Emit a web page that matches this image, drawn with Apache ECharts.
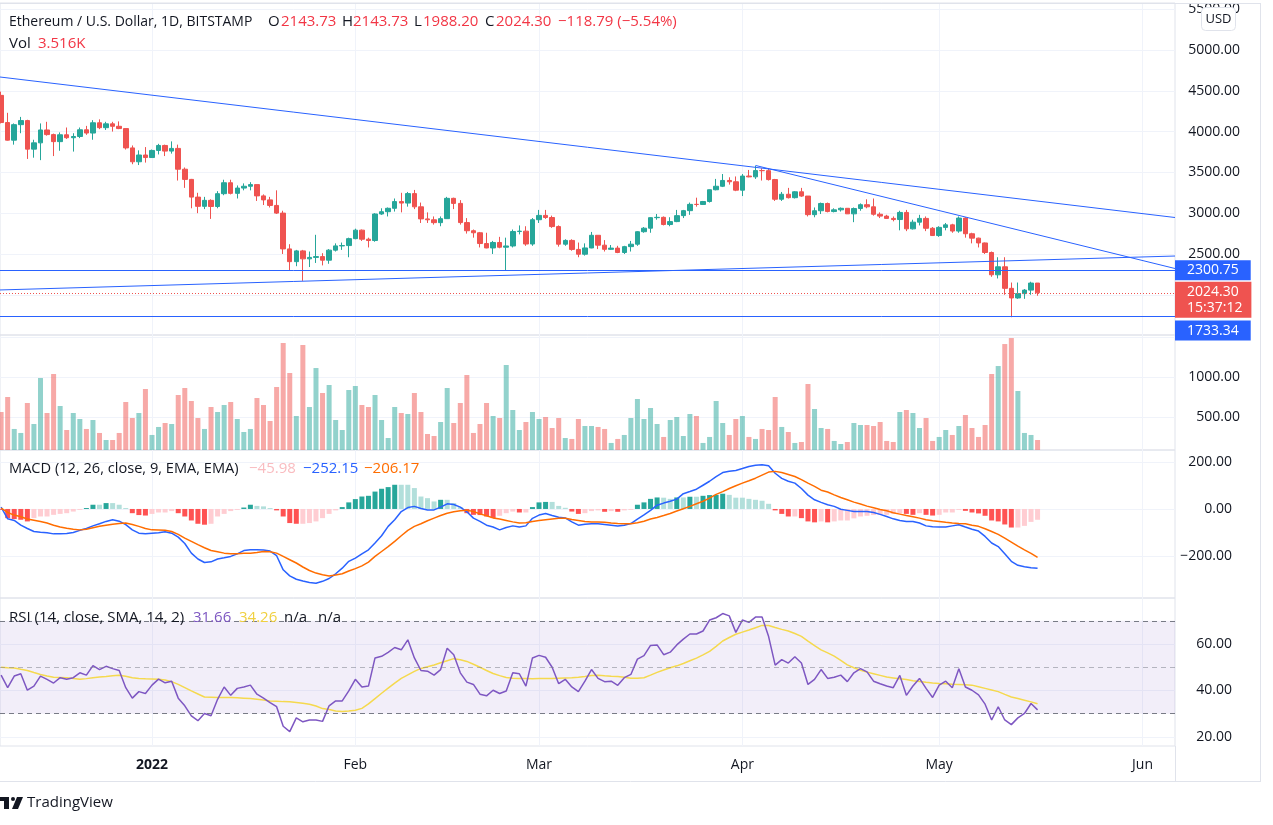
<!DOCTYPE html>
<html><head><meta charset="utf-8">
<script src="https://cdn.jsdelivr.net/npm/echarts@6/dist/echarts.min.js"></script>
<style>html,body{margin:0;padding:0;background:#fff;}#c{width:1273px;height:825px;}</style>
</head><body><div id="c"></div>
<script>
// ---------------- DATA ----------------
const startDate = '2021-12-09'; // day index 0
const opens = [4444,4111,3895,4085,4135,3785,3862,4020,3963,3877,
3961,3925,3940,4022,3982,4108,4048,4095,4065,4037,
3800,3630,3713,3682,3769,3830,3761,3794,3539,3414,
3197,3084,3157,3082,3239,3373,3243,3308,3330,3350,
3212,3163,3095,3001,2562,2406,2538,2440,2458,2468,
2424,2547,2599,2603,2688,2792,2681,2665,2990,3018,
3060,3142,3124,3240,3078,2930,2919,2884,2933,3182,
3120,2885,2785,2760,2628,2574,2641,2583,2598,2775,
2780,2622,2920,2973,2947,2836,2620,2666,2556,2497,
2574,2729,2608,2557,2572,2518,2590,2620,2773,2816,
2945,2949,2861,2897,2970,3031,3108,3107,3143,3287,
3330,3401,3385,3282,3455,3445,3522,3521,3412,3171,
3232,3190,3262,3210,2982,3030,3119,3020,3041,3060,
2992,3057,3104,3078,2987,2964,2936,2922,3009,2808,
2890,2936,2815,2726,2826,2857,2781,2940,2748,2694,
2635,2518,2245,2343,2079,1961,2014,2057,2143.73];
const highs = [4490,4230,4100,4180,4145,3900,4100,4120,3975,3990,
4050,3980,4050,4070,4140,4150,4120,4120,4125,4037,
3830,3770,3810,3780,3850,3840,3880,3840,3560,3420,
3250,3200,3170,3270,3410,3410,3340,3365,3380,3350,
3230,3200,3280,3030,2620,2550,2550,2530,2735,2510,
2560,2630,2640,2700,2810,2800,2700,3000,3060,3070,
3180,3250,3260,3285,3130,3010,2960,2960,3200,3190,
3160,2940,2800,2770,2760,2660,2710,2700,2800,2850,
2840,2940,3040,3040,2970,2850,2680,2680,2640,2630,
2770,2730,2670,2610,2600,2600,2660,2780,2830,2950,
2990,2960,2950,3040,3040,3130,3190,3150,3290,3420,
3480,3440,3450,3480,3530,3580,3550,3550,3420,3260,
3310,3270,3310,3210,3070,3130,3130,3060,3070,3060,
3070,3120,3170,3180,3010,2980,2960,3030,3040,2920,
2980,2960,2830,2840,2880,2870,2960,2950,2760,2700,
2640,2530,2460,2460,2150,2150,2070,2160,2143.73];
const lows = [4100,3890,3840,3980,3665,3680,3650,3950,3700,3765,
3910,3755,3920,3960,3900,4030,4020,4000,4030,3780,
3600,3590,3620,3680,3720,3700,3730,3400,3310,3060,
3000,3050,2930,3060,3220,3230,3180,3280,3280,3150,
3100,3070,2990,2500,2300,2350,2170,2340,2390,2360,
2380,2530,2550,2460,2680,2660,2580,2650,2980,2960,
3020,3010,3080,3050,2880,2880,2860,2840,2930,3050,
2860,2750,2700,2580,2570,2500,2570,2300,2580,2740,
2600,2600,2880,2930,2820,2590,2600,2540,2460,2480,
2570,2560,2530,2550,2510,2500,2530,2600,2760,2760,
2920,2850,2840,2890,2940,2980,3080,3100,3130,3280,
3320,3350,3270,3210,3440,3420,3400,3400,3150,3150,
3180,3180,3200,2960,2950,2990,3010,3010,3020,2990,
2890,3030,3060,2970,2940,2930,2900,2790,2780,2800,
2850,2780,2720,2710,2790,2760,2760,2700,2630,2580,
2500,2220,2200,2000,1725,1950,1950,2000,1988.20];
const closes = [4111,3895,4085,4135,3785,3862,4020,3963,3877,3961,
3925,3940,4022,3982,4108,4048,4095,4065,4037,3800,
3630,3713,3682,3769,3830,3761,3794,3539,3414,3197,
3084,3157,3082,3239,3373,3243,3308,3330,3350,3212,
3163,3095,3001,2562,2406,2538,2440,2458,2468,2424,
2547,2599,2603,2688,2792,2681,2665,2990,3018,3060,
3142,3124,3240,3078,2930,2919,2884,2933,3182,3120,
2885,2785,2760,2628,2574,2641,2583,2598,2775,2780,
2622,2920,2973,2947,2836,2620,2666,2556,2497,2574,
2729,2608,2557,2572,2518,2590,2620,2773,2816,2945,
2949,2861,2897,2970,3031,3108,3107,3143,3287,3330,
3401,3385,3282,3455,3445,3522,3521,3412,3171,3232,
3190,3262,3210,2982,3030,3119,3020,3041,3060,2992,
3057,3104,3078,2987,2964,2936,2922,3009,2808,2890,
2936,2815,2726,2826,2857,2781,2940,2748,2694,2635,
2518,2245,2343,2079,1961,2014,2057,2143.73,2024.30];
const volumes = [566,754,354,304,679,416,991,554,1041,641,
341,554,479,354,466,304,216,216,304,691,
491,554,854,279,379,429,416,779,866,704,
491,354,629,566,654,691,479,316,354,741,
654,454,879,1429,1054,516,1404,629,1116,804,
904,466,341,841,891,654,629,779,466,241,
629,554,541,804,566,291,266,441,866,429,
679,1029,304,416,679,516,491,1154,591,341,
441,566,479,504,366,491,241,229,479,391,
391,379,354,179,229,279,491,729,479,616,
416,254,466,504,266,541,516,179,254,704,
429,279,479,516,254,229,354,341,754,379,
316,179,191,916,604,366,354,204,166,191,
429,404,404,391,441,204,191,566,591,554,
366,491,204,254,341,279,391,529,366,254,
404,1041,1141,1416,1491,829,304,279,216];
const macdLine = [8,-42,-49,-69,-83,-96,-99,-101,-106,-106,
-104,-100,-91,-83,-72,-63,-53,-46,-52,-67,
-89,-103,-106,-103,-101,-97,-103,-120,-147,-188,
-213,-228,-225,-213,-208,-202,-191,-177,-174,-174,
-175,-179,-199,-259,-285,-299,-307,-313,-316,-308,
-296,-276,-252,-223,-209,-191,-174,-145,-114,-74,
-46,-11,6,11,2,-4,-4,8,22,19,
8,-12,-39,-53,-69,-77,-89,-79,-72,-77,
-72,-40,-26,-19,-28,-35,-38,-55,-69,-65,
-63,-63,-66,-69,-73,-69,-62,-43,-25,-6,
16,25,33,42,65,74,84,101,118,138,
155,161,164,172,181,186,188,184,152,130,
118,110,87,59,39,28,18,11,-1,-6,
-11,-11,-11,-15,-23,-32,-42,-49,-53,-53,
-60,-72,-76,-77,-77,-72,-67,-77,-86,-94,
-117,-145,-160,-191,-223,-240,-246,-250,-252.15];
const signalLine = [4,-15,-26,-33,-43,-48,-53,-60,-69,-77,
-82,-86,-89,-86,-80,-74,-69,-65,-62,-60,
-66,-74,-83,-89,-90,-91,-96,-108,-124,-138,
-152,-165,-177,-182,-188,-191,-191,-189,-188,-185,
-181,-182,-188,-202,-216,-230,-247,-262,-273,-280,
-285,-281,-276,-264,-254,-242,-226,-202,-181,-160,
-138,-114,-91,-74,-63,-50,-39,-28,-18,-12,
-8,-5,-11,-21,-29,-38,-43,-49,-55,-60,
-59,-53,-49,-46,-43,-40,-40,-45,-49,-53,
-55,-56,-57,-60,-62,-63,-63,-59,-52,-43,
-36,-28,-19,-9,1,11,22,33,46,62,
74,87,99,110,120,131,144,157,160,155,
147,138,125,110,96,80,72,60,49,39,
29,21,12,5,-2,-8,-16,-22,-28,-33,
-39,-46,-50,-53,-57,-60,-62,-63,-69,-74,
-84,-96,-108,-124,-141,-158,-174,-189,-206.17];
const macdHist = [-4,-39,-43,-46,-53,-39,-32,-32,-25,-21,
-18,-11,-4,4,18,18,25,25,18,4,
-18,-26,-28,-21,-15,-15,-9,-18,-32,-49,
-63,-67,-63,-32,-21,-9,-4,6,18,13,
11,4,-6,-32,-60,-63,-63,-60,-53,-39,
-21,-6,8,28,42,53,56,74,86,93,
103,103,103,89,53,46,32,39,39,25,
8,-18,-25,-26,-32,-39,-29,-18,-11,-15,
-15,8,28,30,30,13,5,-11,-21,-18,
-9,-6,-12,-9,-12,-6,-4,18,28,43,
49,48,43,49,49,52,52,56,59,60,
65,60,48,48,43,39,35,22,-6,-21,
-32,-32,-39,-53,-57,-53,-57,-53,-49,-49,
-40,-32,-29,-26,-25,-25,-21,-18,-21,-25,
-18,-25,-28,-25,-15,-15,-4,-8,-15,-19,
-29,-49,-53,-66,-79,-79,-72,-55,-45.98];
const rsi = [46.6,41.2,46.2,47.2,40.1,41.9,46.2,44.8,43.2,45.5,
44.8,45.5,47.6,46.6,50.7,49.0,50.4,49.4,48.6,41.2,
36.7,39.5,38.7,42.3,44.9,43.3,44.0,36.7,33.4,29.1,
27.0,30.1,29.1,36.2,41.5,37.9,40.9,41.5,42.3,38.4,
36.7,34.8,33.0,24.6,22.3,28.2,26.5,27.3,27.3,26.7,
33.4,35.5,35.5,39.8,44.8,41.5,41.9,54.0,54.7,56.4,
58.5,57.5,61.8,54.0,48.6,48.3,46.6,49.0,58.2,55.4,
47.6,43.6,42.6,38.4,37.7,40.1,38.7,39.8,47.6,47.2,
41.9,54.0,55.1,54.3,50.0,42.9,44.8,41.5,39.5,44.0,
49.0,45.2,43.8,44.0,42.2,45.5,46.9,53.5,55.0,59.4,
59.6,55.4,56.5,59.6,62.1,64.3,64.3,65.6,70.3,71.3,
73.1,72.1,65.0,70.3,69.3,71.6,71.6,63.2,50.9,53.3,
51.8,54.5,51.8,42.6,44.8,49.0,45.2,45.7,46.6,43.8,
47.6,49.4,48.0,44.0,42.9,41.9,41.2,46.5,37.9,41.9,
45.2,40.9,37.0,42.3,44.0,41.2,49.4,41.5,40.1,38.1,
34.1,27.3,33.0,27.3,25.3,28.2,30.1,34.4,31.66];
const rsiMA = [50.0,49.8,49.7,49.1,48.6,47.7,46.9,46.2,45.7,45.6,
45.5,45.2,44.8,45.1,45.5,45.8,46.0,46.3,46.6,46.1,
45.5,45.2,45.0,44.9,44.8,44.5,43.8,42.6,41.2,39.8,
38.5,37.2,37.1,37.0,37.0,37.0,36.9,36.7,36.5,36.2,
35.9,35.5,35.4,35.2,35.1,34.8,34.5,34.1,33.3,32.2,
31.8,31.2,31.0,31.2,31.5,32.3,34.2,36.5,38.8,41.0,
43.2,45.2,46.7,48.2,49.5,50.2,51.0,51.9,52.8,53.7,
53.2,52.5,51.3,50.0,48.6,47.3,46.4,45.6,45.3,45.2,
45.1,45.0,45.1,45.2,45.2,45.3,45.4,45.5,45.7,46.0,
46.4,46.6,46.3,46.1,46.0,45.7,45.3,45.3,45.5,46.6,
47.8,48.8,49.8,50.6,51.6,52.8,53.9,55.3,56.8,59.0,
61.3,62.8,64.2,65.1,66.0,67.0,68.0,68.0,67.1,66.3,
65.6,64.5,63.3,61.2,59.3,57.5,56.2,54.8,53.0,51.0,
49.8,48.7,47.9,47.2,46.5,45.8,45.4,45.0,44.7,44.2,
43.9,43.5,43.2,43.0,42.9,42.7,42.6,42.5,42.3,41.6,
40.9,40.2,39.5,38.3,37.2,36.5,35.8,35.1,34.26];
const monthTicks = ['2022-01-01','2022-02-01','2022-03-01','2022-04-01','2022-05-01','2022-06-01'];
const monthLabels = ['2022','Feb','Mar','Apr','May','Jun'];
const priceGridTicks = [2000,2500,3000,3500,4000,4500,5000,5500];
const priceLabelTicks = [2500,3000,3500,4000,4500,5000,5500];
const volumeGridTicks = [500,1000,1500];
const volumeLabelTicks = [500,1000];
const macdTicks = [-200,0,200];
const rsiTicks = [20,40,60];
// drawn objects (day index, price)
const trendLines = [
  [[-0.17, 4669], [178.95, 2947]],
  [[115, 3585], [178.95, 2322]],
  [[-0.17, 2059], [178.95, 2475]]
];
const levelHigh = 2300.75, levelLow = 1733.34;
const lastPrice = 2024.30, countdown = '15:37:12';

// ---------------- CHART ----------------
const DAY = 86400000;
const base = Date.parse(startDate + 'T00:00:00Z');
const monthDays = monthTicks.map(s => Math.round((Date.parse(s + 'T00:00:00Z') - base) / DAY));
const X_MIN = -0.17, X_MAX = 178.95;
const FONT = "'Open Sans', sans-serif";
const TXT = '#131722', GRIDC = '#f0f3fa', BORDER = '#e0e3eb';
const UP = '#26a69a', DOWN = '#ef5350';
const fmt2 = v => (v < 0 ? '\u2212' : '') + Math.abs(v).toFixed(2);

const chart = echarts.init(document.getElementById('c'), null, {width:1273, height:825});

const grids = [
  {left:0, top:3, width:1175, height:332},
  {left:0, top:335, width:1175, height:115},
  {left:0, top:450, width:1175, height:148},
  {left:0, top:598, width:1175, height:148}
].map(g => Object.assign(g, {show:true, borderColor:BORDER, borderWidth:1, backgroundColor:'transparent', containLabel:false}));

function xAx(g, show) {
  return {type:'value', gridIndex:g, min:X_MIN, max:X_MAX,
    axisLine:{show:false}, axisTick:{show:false, customValues:monthDays},
    axisLabel:{show:show, customValues:monthDays, margin:12, color:TXT, fontSize:14, fontFamily:FONT,
      formatter: v => { const k = monthDays.findIndex(d => Math.abs(d - v) < 0.01); const s = monthLabels[k] || ''; return k === 0 ? '{b|' + s + '}' : s; },
      rich:{b:{fontWeight:'bold', fontSize:14, color:TXT, fontFamily:FONT}}},
    splitLine:{show:true, lineStyle:{color:GRIDC, width:1}}};
}
function yAx(g, min, max, gridTicks, labelTicks, margin) {
  return {type:'value', gridIndex:g, position:'right', min:min, max:max,
    axisLine:{show:false}, axisTick:{show:false, customValues:gridTicks},
    axisLabel:{customValues:labelTicks, align:'right', margin:margin, color:TXT, fontSize:14, fontFamily:FONT, formatter:fmt2},
    splitLine:{show:true, lineStyle:{color:GRIDC, width:1}}};
}

const idx = closes.map((_, i) => i);
const histColors = macdHist.map((h, i) => { const p = i > 0 ? macdHist[i-1] : 0; return h >= 0 ? (h > p ? '#26a69a' : '#b2dfdb') : (h < p ? '#ff5252' : '#ffcdd2'); });

const boxLabel = (text, bg, offY) => ({show:true, position:'end', distance:0, formatter:text,
  backgroundColor:bg, color:'#fff', padding:[3,12,3,12], fontSize:14, fontFamily:FONT, offset:[0, offY]});

const option = {
  animation:false,
  grid: grids,
  xAxis: [xAx(0,false), xAx(1,false), xAx(2,false), xAx(3,true)],
  yAxis: [
    yAx(0, 1507, 5576, priceGridTicks, priceLabelTicks, 65),
    yAx(1, 91, 1529, volumeGridTicks, volumeLabelTicks, 65),
    yAx(2, -379, 251, macdTicks, macdTicks, 57),
    yAx(3, 16.1, 79.8, rsiTicks, rsiTicks, 57)
  ],
  series: [
    {type:'candlestick', xAxisIndex:0, yAxisIndex:0, barWidth:5,
      data: idx.map(i => [i, opens[i], closes[i], lows[i], highs[i]]),
      encode:{x:0, y:[1,2,3,4]},
      itemStyle:{color:UP, color0:DOWN, borderColor:UP, borderColor0:DOWN, borderWidth:1},
      markLine:{silent:true, symbol:['none','none'], animation:false,
        label:{show:false}, lineStyle:{color:'#2962ff', width:1, type:'solid'},
        emphasis:{disabled:true},
        data:[
          ...trendLines.map(t => [{coord:t[0]}, {coord:t[1]}]),
          {yAxis:levelHigh, label:boxLabel(levelHigh.toFixed(2), '#2962ff', 0)},
          {yAxis:levelLow, label:boxLabel(levelLow.toFixed(2), '#2962ff', 14)},
          {yAxis:lastPrice, lineStyle:{color:'#ef5350', type:[1,2], width:1},
            label:Object.assign(boxLabel(lastPrice.toFixed(2) + '\n' + countdown, '#ef5350', 7), {lineHeight:16, padding:[2,9,2,12]})}
        ]}
    },
    {type:'bar', xAxisIndex:1, yAxisIndex:1, barWidth:5,
      data: idx.map(i => ({value:[i, volumes[i]], itemStyle:{color: closes[i] >= opens[i] ? 'rgba(38,166,154,0.5)' : 'rgba(239,83,80,0.5)'}}))},
    {type:'bar', xAxisIndex:2, yAxisIndex:2, barWidth:5,
      data: idx.map(i => ({value:[i, macdHist[i]], itemStyle:{color:histColors[i]}}))},
    {type:'line', xAxisIndex:2, yAxisIndex:2, data: idx.map(i => [i, macdLine[i]]), showSymbol:false, lineStyle:{color:'#2962ff', width:1.5}},
    {type:'line', xAxisIndex:2, yAxisIndex:2, data: idx.map(i => [i, signalLine[i]]), showSymbol:false, lineStyle:{color:'#ff6d00', width:1.5}},
    {type:'line', xAxisIndex:3, yAxisIndex:3, data: idx.map(i => [i, rsi[i]]), showSymbol:false, lineStyle:{color:'#7e57c2', width:1.5}, z:3,
      markArea:{silent:true, itemStyle:{color:'rgba(126,87,194,0.1)'}, data:[[{yAxis:30},{yAxis:70}]]},
      markLine:{silent:true, symbol:['none','none'], label:{show:false}, emphasis:{disabled:true},
        data:[
          {yAxis:70, lineStyle:{color:'#787b86', type:[5,4], width:1}},
          {yAxis:50, lineStyle:{color:'rgba(120,123,134,0.5)', type:[5,4], width:1}},
          {yAxis:30, lineStyle:{color:'#787b86', type:[5,4], width:1}}
        ]}
    },
    {type:'line', xAxisIndex:3, yAxisIndex:3, data: idx.map(i => [i, rsiMA[i]]), showSymbol:false, lineStyle:{color:'#f5d94e', width:1.5}, z:2}
  ],
  graphic: []
};

function T(x, y, text, color, size, weight) {
  return {type:'text', x:x, y:y, silent:true, z:100,
    style:{text:text, fill:color, font:(weight||'normal') + ' ' + (size||15) + 'px ' + FONT, verticalAlign:'middle', textVerticalAlign:'middle', align:'left'}};
}
const RED = '#f23645';
const g = option.graphic;
g.push(T(9, 22, 'Ethereum / U.S. Dollar, 1D, BITSTAMP', TXT, 14));
g.push(T(268, 22, 'O', TXT)); g.push(T(281, 22, opens[158].toFixed(2), RED));
g.push(T(342, 22, 'H', TXT)); g.push(T(353, 22, highs[158].toFixed(2), RED));
g.push(T(414, 22, 'L', TXT)); g.push(T(423, 22, lows[158].toFixed(2), RED));
g.push(T(485, 22, 'C', TXT)); g.push(T(496, 22, closes[158].toFixed(2), RED));
g.push(T(558, 22, '\u2212118.79 (\u22125.54%)', RED));
g.push(T(9, 44, 'Vol', TXT)); g.push(T(38, 44, '3.516K', RED));
g.push(T(9, 469, 'MACD (12, 26, close, 9, EMA, EMA)', TXT, 14.6));
g.push(T(249, 469, fmt2(macdHist[158]), '#f9bcc0'));
g.push(T(303, 469, fmt2(macdLine[158]), '#2962ff'));
g.push(T(364, 469, fmt2(signalLine[158]), '#ff6d00'));
g.push(T(9, 618, 'RSI (14, close, SMA, 14, 2)', TXT));
g.push(T(193, 618, rsi[158].toFixed(2), '#7e57c2'));
g.push(T(239, 618, rsiMA[158].toFixed(2), '#f0d040'));
g.push(T(284, 618, 'n/a', TXT)); g.push(T(318, 618, 'n/a', TXT));
// USD box
g.push({type:'rect', shape:{x:1201.5, y:7.5, width:34, height:23, r:4}, style:{fill:'#fff', stroke:BORDER, lineWidth:1}, z:90, silent:true});
g.push({type:'text', x:1218.5, y:19, z:100, silent:true, style:{text:'USD', fill:TXT, font:'13px ' + FONT, align:'center', textAlign:'center', verticalAlign:'middle', textVerticalAlign:'middle'}});
// frame
const L = (x1,y1,x2,y2) => ({type:'line', shape:{x1,y1,x2,y2}, style:{stroke:BORDER, lineWidth:1}, silent:true, z:50});
g.push(L(0,3.5,1260,3.5)); g.push(L(1260.5,3,1260.5,781)); g.push(L(0,781.5,1261,781.5)); g.push(L(1175.5,746,1175.5,781));
// logo
g.push({type:'rect', shape:{x:0, y:797, width:9, height:4}, style:{fill:TXT}, silent:true});
g.push({type:'rect', shape:{x:4, y:797, width:5, height:12}, style:{fill:TXT}, silent:true});
g.push({type:'circle', shape:{cx:13, cy:799, r:2}, style:{fill:TXT}, silent:true});
g.push({type:'polygon', shape:{points:[[17,797],[23,797],[18,809],[12,809]]}, style:{fill:TXT}, silent:true});
g.push(T(27, 803, 'TradingView', TXT, 15));

chart.setOption(option);
</script>
</body></html>
